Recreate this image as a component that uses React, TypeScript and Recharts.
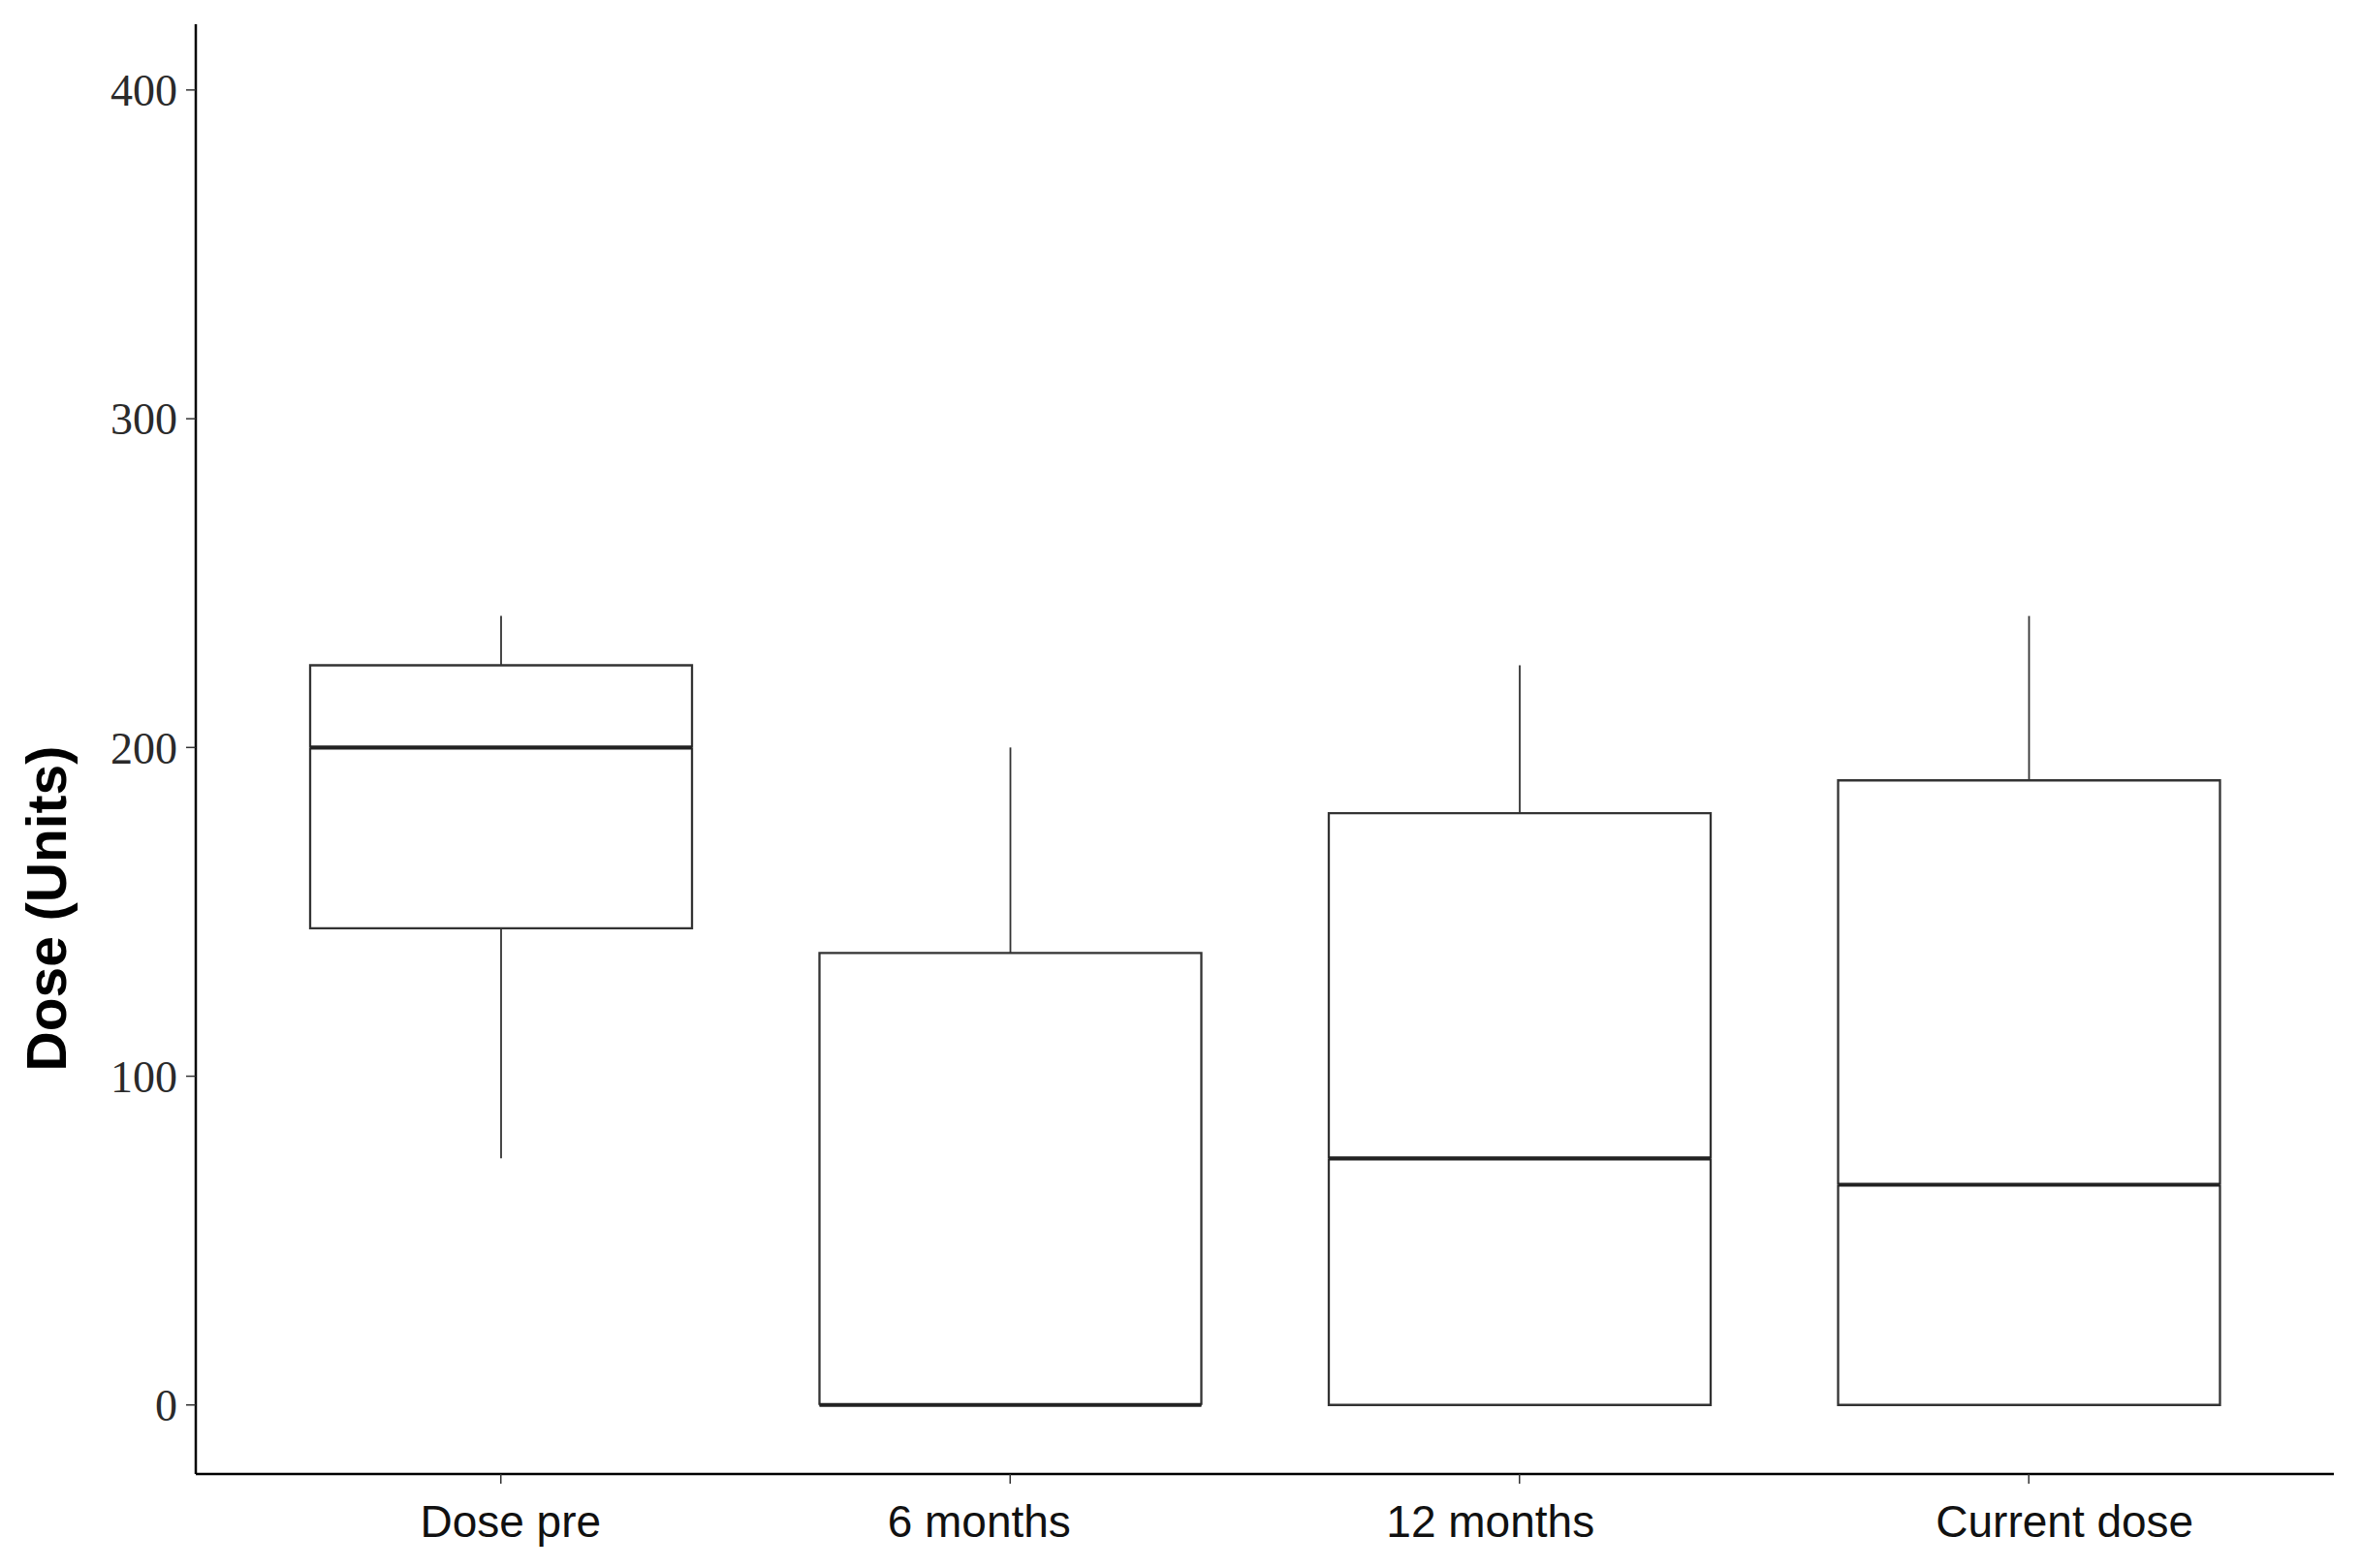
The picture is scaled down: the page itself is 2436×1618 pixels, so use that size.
import React from 'react';
import { BarChart, Bar, XAxis, YAxis, Label } from 'recharts';

const categories = ['Dose pre', '6 months', '12 months', 'Current dose'];
const mins = [75, 0, 0, 0];
const q1s = [145, 0, 0, 0];
const medians = [200, 0, 75, 67];
const q3s = [225, 137.5, 180, 190];
const maxs = [240, 200, 225, 240];
const yTicks = [0, 100, 200, 300, 400];
const yTitle = 'Dose (Units)';

const data = categories.map((name, i) => ({
  name,
  base: mins[i],
  lowWhisker: q1s[i] - mins[i],
  lowBox: medians[i] - q1s[i],
  highBox: q3s[i] - medians[i],
  highWhisker: maxs[i] - q3s[i],
}));

const BOX = '#333333';

// label placement nudges (style only), as in the reference figure
const labelNudge: Record<string, number> = {
  'Dose pre': 10,
  '6 months': -32,
  '12 months': -30,
  'Current dose': 37,
};

const Empty = () => <g />;

const Whisker = (p: any) => {
  const cx = p.x + p.width / 2;
  return <line x1={cx} x2={cx} y1={p.y} y2={p.y + p.height} stroke={BOX} strokeWidth={1.8} />;
};

const LowBox = (p: any) => {
  const { x, y, width, height } = p;
  return (
    <path
      d={`M${x},${y} V${y + height} H${x + width} V${y}`}
      fill="none"
      stroke={BOX}
      strokeWidth={2.3}
    />
  );
};

const HighBox = (p: any) => {
  const { x, y, width, height } = p;
  return (
    <g>
      <path
        d={`M${x},${y + height} V${y} H${x + width} V${y + height}`}
        fill="none"
        stroke={BOX}
        strokeWidth={2.3}
      />
      <line x1={x} x2={x + width} y1={y + height} y2={y + height} stroke="#222" strokeWidth={4.2} />
    </g>
  );
};

const XTick = (props: any) => {
  const { x, y, payload } = props;
  const v = payload.value as string;
  return (
    <text
      x={x + (labelNudge[v] || 0)}
      y={y}
      dy="0.71em"
      textAnchor="middle"
      fontSize={46}
      fontFamily="'Liberation Sans', Arial, sans-serif"
      fill="#111"
    >
      {v}
    </text>
  );
};

const YTitle = (props: any) => {
  const vb = props.viewBox || { x: 0, y: 25, width: 202, height: 1496 };
  const cx = vb.x + 48;
  const cy = vb.y + vb.height * 0.61;
  return (
    <text
      x={cx}
      y={cy}
      transform={`rotate(-90, ${cx}, ${cy})`}
      textAnchor="middle"
      dominantBaseline="central"
      fontFamily="'Liberation Sans', Arial, sans-serif"
      fontWeight="bold"
      fontSize={57}
      fill="#000"
    >
      {yTitle}
    </text>
  );
};

export default function App() {
  return (
    <div style={{ position: 'absolute', left: 0, top: 0, width: 2436, height: 1618, background: '#fff' }}>
      <BarChart
        width={2436}
        height={1618}
        data={data}
        margin={{ top: 25, right: 28, bottom: 0, left: 0 }}
        barSize={394}
      >
        <XAxis
          dataKey="name"
          type="category"
          interval={0}
          height={97}
          padding={{ left: 52, right: 52 }}
          axisLine={{ stroke: '#000', strokeWidth: 2.5 }}
          tickLine={{ stroke: '#333', strokeWidth: 1.5 }}
          tickSize={10}
          tickMargin={22}
          tick={XTick}
        />
        <YAxis
          type="number"
          domain={[-21, 420]}
          ticks={yTicks}
          allowDataOverflow
          width={202}
          axisLine={{ stroke: '#000', strokeWidth: 2.5 }}
          tickLine={{ stroke: '#333', strokeWidth: 1.5 }}
          tickSize={10}
          tickMargin={9}
          tick={{ fontSize: 46, fontFamily: "'Liberation Serif', 'Times New Roman', serif", fill: '#2a2a2a' }}
        >
          <Label content={YTitle} />
        </YAxis>
        <Bar dataKey="base" stackId="box" shape={Empty} isAnimationActive={false} />
        <Bar dataKey="lowWhisker" stackId="box" shape={Whisker} isAnimationActive={false} />
        <Bar dataKey="lowBox" stackId="box" shape={LowBox} isAnimationActive={false} />
        <Bar dataKey="highBox" stackId="box" shape={HighBox} isAnimationActive={false} />
        <Bar dataKey="highWhisker" stackId="box" shape={Whisker} isAnimationActive={false} />
      </BarChart>
    </div>
  );
}
